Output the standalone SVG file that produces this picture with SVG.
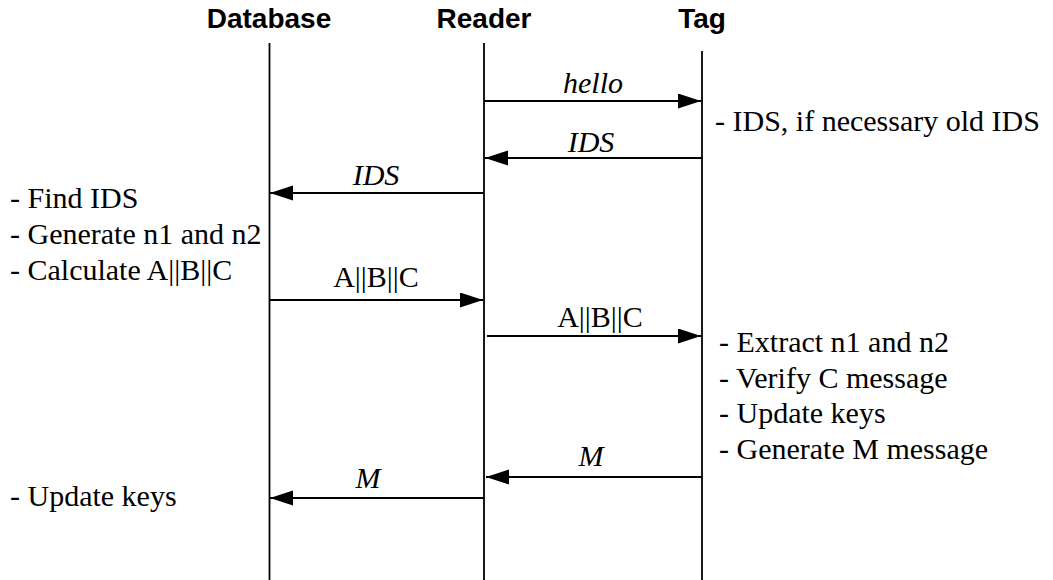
<svg xmlns="http://www.w3.org/2000/svg" width="1053" height="580" viewBox="0 0 1053 580">
<style>
.hdr{font-family:"Liberation Sans",Arial,sans-serif;font-weight:bold;font-size:28px;text-anchor:middle;fill:#000}
.txt{font-family:"Liberation Serif","Times New Roman",serif;font-size:30px;fill:#000}
.lbl{font-family:"Liberation Serif","Times New Roman",serif;font-size:30px;text-anchor:middle;fill:#000}
.it{font-style:italic}
.life{stroke:#000;stroke-width:1.8;fill:none}
.msg{stroke:#000;stroke-width:2;fill:none;marker-end:url(#ah)}
</style>
<defs>
<marker id="ah" markerUnits="userSpaceOnUse" markerWidth="24" markerHeight="16" refX="23" refY="7.5" orient="auto">
<path d="M0,0 L23,7.5 L0,15 Z" fill="#000"/>
</marker>
</defs>
<rect width="1053" height="580" fill="#fff"/>
<g id="database">
<text class="hdr" x="269" y="28">Database</text>
<line class="life" x1="269.5" y1="43" x2="269.5" y2="580"/>
<text class="txt" x="10" y="208">- Find IDS</text>
<text class="txt" x="10" y="244">- Generate n1 and n2</text>
<text class="txt" x="10" y="280">- Calculate A||B||C</text>
<text class="txt" x="10" y="506">- Update keys</text>
</g>
<g id="reader">
<text class="hdr" x="484" y="28">Reader</text>
<line class="life" x1="484" y1="43" x2="484" y2="580"/>
</g>
<g id="tag">
<text class="hdr" x="702" y="28">Tag</text>
<line class="life" x1="702" y1="51" x2="702" y2="580"/>
<text class="txt" x="715" y="131">- IDS, if necessary old IDS</text>
<text class="txt" x="719" y="352">- Extract n1 and n2</text>
<text class="txt" x="719" y="388">- Verify C message</text>
<text class="txt" x="719" y="423">- Update keys</text>
<text class="txt" x="719" y="459">- Generate M message</text>
</g>
<g id="connectors">
<line class="msg" x1="484" y1="101" x2="701" y2="101"/>
<text class="lbl it" x="593" y="93">hello</text>
<line class="msg" x1="702" y1="158" x2="485" y2="158"/>
<text class="lbl it" x="591" y="152">IDS</text>
<line class="msg" x1="484" y1="193" x2="270" y2="193"/>
<text class="lbl it" x="376" y="185">IDS</text>
<line class="msg" x1="269" y1="300" x2="483" y2="300"/>
<text class="lbl" x="376" y="287">A||B||C</text>
<line class="msg" x1="487" y1="336" x2="701" y2="336"/>
<text class="lbl" x="600" y="327">A||B||C</text>
<line class="msg" x1="702" y1="477" x2="486" y2="477"/>
<text class="lbl it" x="591" y="466">M</text>
<line class="msg" x1="484" y1="498" x2="270" y2="498"/>
<text class="lbl it" x="368" y="488">M</text>
</g>
</svg>
